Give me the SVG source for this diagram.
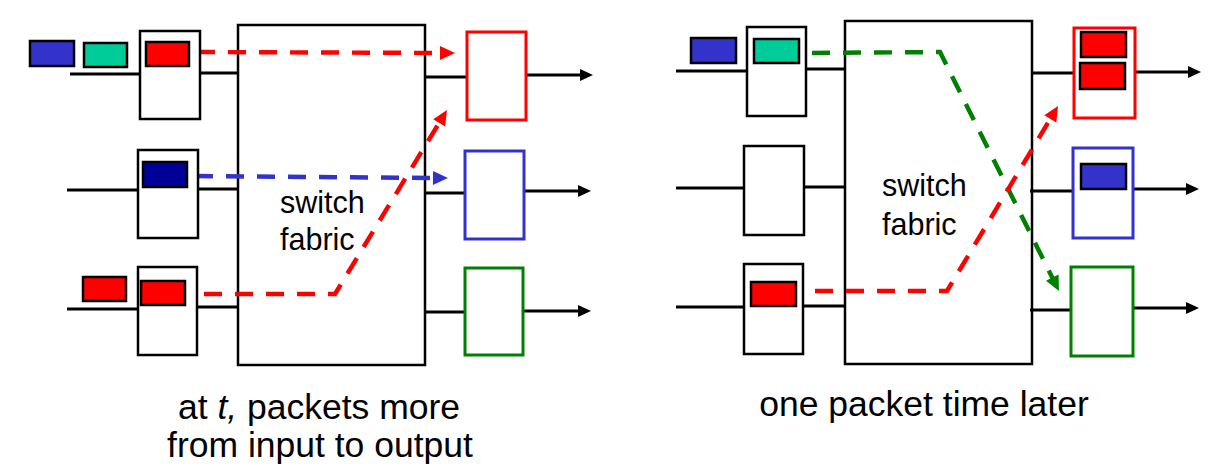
<svg xmlns="http://www.w3.org/2000/svg" width="1228" height="476" viewBox="0 0 1228 476">
<style>
.box{fill:#fff;stroke:#000;stroke-width:2.5}
.fab{fill:#fff;stroke:#000;stroke-width:2.5}
.pk{stroke:#000;stroke-width:2.5}
.red{fill:#FF0000}.blue{fill:#3333CC}.teal{fill:#00CC99}.navy{fill:#000099}
.oR{fill:#fff;stroke:#FF0000;stroke-width:3}
.oB{fill:#fff;stroke:#3333CC;stroke-width:3}
.oG{fill:#fff;stroke:#008000;stroke-width:3}
.ln{stroke:#000;stroke-width:3;fill:none}
.dR{stroke:#FF0000;stroke-width:4.5;fill:none;stroke-dasharray:18 13}
.dB{stroke:#3333CC;stroke-width:4.5;fill:none;stroke-dasharray:18 13}
.dG{stroke:#008000;stroke-width:4.5;fill:none;stroke-dasharray:18 13}
.lbl{font-family:"Liberation Sans",Arial,sans-serif;font-size:30.5px;fill:#000}
.cap{font-family:"Liberation Sans",Arial,sans-serif;font-size:35.5px;fill:#000;text-anchor:middle}
</style>
<defs>
<marker id="ahK" markerUnits="userSpaceOnUse" markerWidth="14" markerHeight="14" refX="4" refY="6" orient="auto" overflow="visible"><path d="M0,0 L13,6 L0,12 z" fill="#000"/></marker>
<marker id="ahR" markerUnits="userSpaceOnUse" markerWidth="16" markerHeight="16" refX="5" refY="7" orient="auto" overflow="visible"><path d="M0,0 L15,7 L0,14 z" fill="#FF0000"/></marker>
<marker id="ahB" markerUnits="userSpaceOnUse" markerWidth="16" markerHeight="16" refX="5" refY="7" orient="auto" overflow="visible"><path d="M0,0 L15,7 L0,14 z" fill="#3333CC"/></marker>
<marker id="ahG" markerUnits="userSpaceOnUse" markerWidth="16" markerHeight="16" refX="5" refY="7" orient="auto" overflow="visible"><path d="M0,0 L15,7 L0,14 z" fill="#008000"/></marker>
</defs>

<g id="fabric-left"><rect class="fab" x="238" y="25" width="187" height="340"/>
<text class="lbl" x="280" y="213">switch</text><text class="lbl" x="280" y="250">fabric</text></g>
<g id="fabric-right"><rect class="fab" x="845" y="21" width="187" height="343"/>
<text class="lbl" x="882" y="196">switch</text><text class="lbl" x="882" y="235">fabric</text></g>

<g id="connectors">
<path class="ln" d="M70,74 H140 M200,73 H238 M67,190 H138 M198,189 H238 M67,309 H138 M197,307 H238"/>
<path class="ln" d="M425,77 H466 M425,193 H464 M425,312 H464"/>
<path class="ln" marker-end="url(#ahK)" d="M526,75 H584"/>
<path class="ln" marker-end="url(#ahK)" d="M525,191 H582"/>
<path class="ln" marker-end="url(#ahK)" d="M523,311 H582"/>
<path class="ln" d="M676,71 H747 M806,69 H845 M676,188 H744 M804,187 H845 M676,307 H744 M803,306 H845"/>
<path class="ln" d="M1032,73 H1074 M1030,191 H1073 M1030,310 H1071"/>
<path class="ln" marker-end="url(#ahK)" d="M1135,72 H1192"/>
<path class="ln" marker-end="url(#ahK)" d="M1133,189 H1190"/>
<path class="ln" marker-end="url(#ahK)" d="M1133,308 H1190"/>
<path class="dR" marker-end="url(#ahR)" d="M197,52 L445,53"/>
<path class="dB" marker-end="url(#ahB)" d="M195,176 L438,178"/>
<path class="dR" marker-end="url(#ahR)" d="M204,294 L335,294 L441.8,118.5"/>
<path class="dG" marker-end="url(#ahG)" d="M812,53 L940,52 L1054.5,282"/>
<path class="dR" marker-end="url(#ahR)" d="M815,291 L947,291 L1052.9,114.6"/>
</g>

<g id="left-in1"><rect class="box" x="140" y="31" width="60" height="88"/><rect class="pk red" x="146" y="42" width="43" height="24"/></g>
<g id="left-queue1"><rect class="pk blue" x="30" y="41" width="44" height="25"/><rect class="pk teal" x="84" y="43" width="43" height="24"/></g>
<g id="left-in2"><rect class="box" x="138" y="150" width="60" height="88"/><rect class="pk navy" x="143" y="162" width="44" height="25"/></g>
<g id="left-in3"><rect class="box" x="138" y="267" width="59" height="88"/><rect class="pk red" x="141" y="281" width="44" height="24"/></g>
<g id="left-queue3"><rect class="pk red" x="83" y="277" width="43" height="24"/></g>

<g id="left-out1"><rect class="oR" x="467" y="32" width="59" height="88"/></g>
<g id="left-out2"><rect class="oB" x="465" y="151" width="59" height="88"/></g>
<g id="left-out3"><rect class="oG" x="465" y="268" width="58" height="87"/></g>

<g id="right-in1"><rect class="box" x="747" y="27" width="59" height="89"/><rect class="pk teal" x="754" y="39" width="45" height="24"/></g>
<g id="right-queue1"><rect class="pk blue" x="691" y="38" width="45" height="25"/></g>
<g id="right-in2"><rect class="box" x="744" y="146" width="60" height="89"/></g>
<g id="right-in3"><rect class="box" x="744" y="264" width="59" height="90"/><rect class="pk red" x="751" y="282" width="45" height="24"/></g>

<g id="right-out1"><rect class="oR" x="1074" y="28" width="61" height="90"/><rect class="pk red" x="1081" y="32" width="45" height="25"/><rect class="pk red" x="1080" y="63" width="45" height="26"/></g>
<g id="right-out2"><rect class="oB" x="1073" y="148" width="60" height="90"/><rect class="pk blue" x="1081" y="164" width="45" height="25"/></g>
<g id="right-out3"><rect class="oG" x="1071" y="267" width="62" height="89"/></g>

<g id="captions">
<text class="cap" x="319" y="419">at <tspan font-style="italic">t,</tspan> packets more</text>
<text class="cap" x="320" y="457">from input to output</text>
<text class="cap" x="924" y="416">one packet time later</text>
</g>
</svg>
